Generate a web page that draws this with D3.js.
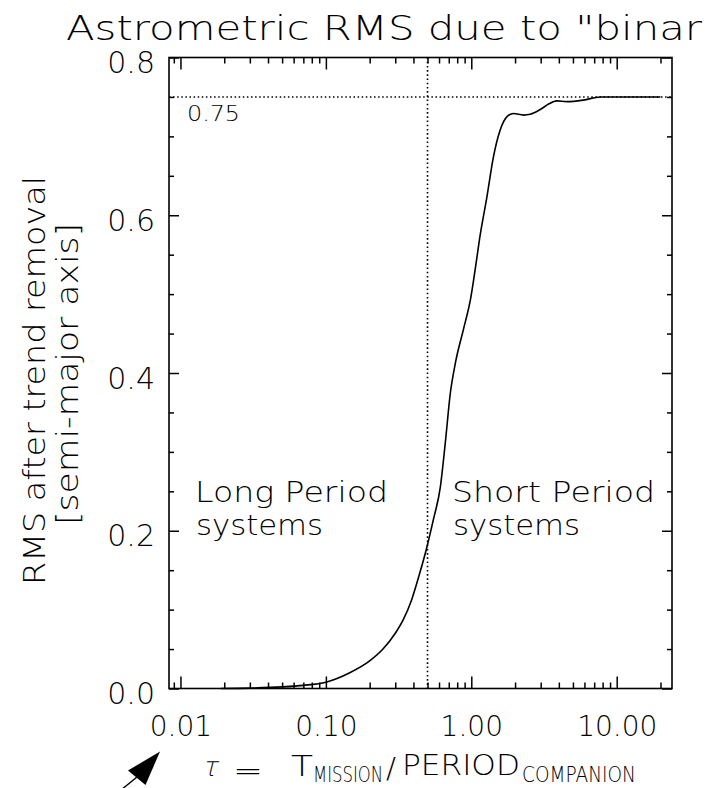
<!DOCTYPE html>
<html>
<head>
<meta charset="utf-8">
<script src="https://cdn.jsdelivr.net/npm/d3@7/dist/d3.min.js"></script>
<style>
  html, body { margin: 0; padding: 0; background: #fff; }
  svg { display: block; }
  text { font-family: "DejaVu Sans", "Liberation Sans", sans-serif; font-weight: 200; fill: #000; }
</style>
</head>
<body>
<svg id="chart" width="706" height="788"></svg>
<script>
// ---------------- data ----------------
const tau = [0.019, 0.03, 0.05, 0.07, 0.10, 0.146, 0.20, 0.247, 0.30, 0.34, 0.388, 0.44, 0.49, 0.55,
             0.612, 0.663, 0.717, 0.776, 0.885, 0.984, 1.094, 1.14, 1.28, 1.42, 1.58, 1.76, 1.95,
             2.29, 2.54, 2.98, 3.40, 3.88, 4.54, 5.9, 7.7, 20];
const rms = [0, 0.0005, 0.002, 0.004, 0.008, 0.02, 0.035, 0.05, 0.07, 0.087, 0.112, 0.145, 0.176, 0.215,
             0.255, 0.312, 0.374, 0.412, 0.456, 0.492, 0.547, 0.570, 0.623, 0.674, 0.708, 0.725, 0.729,
             0.727, 0.728, 0.734, 0.741, 0.745, 0.744, 0.746, 0.75, 0.75];
const xMajorTicks = [0.01, 0.1, 1, 10];
const xMajorLabels = ["0.01", "0.10", "1.00", "10.00"];
const yMajorTicks = [0, 0.2, 0.4, 0.6, 0.8];
const yMajorLabels = ["0.0", "0.2", "0.4", "0.6", "0.8"];
const yMinorStep = 0.05;
const xDomain = [0.00834, 24.0];
const yDomain = [0, 0.8];
const refLevel = 0.75;
const refLevelLabel = "0.75";
const refTau = 0.5;
const titleText = "Astrometric RMS due to \"binar";
const yTitle1 = "RMS after trend removal";
const yTitle2 = "[semi-major axis]";
const leftNote = ["Long Period", "systems"];
const rightNote = ["Short Period", "systems"];

// ---------------- layout ----------------
const L = 169, R = 672, T = 57.5, B = 688.5;
const svg = d3.select("#chart");
const x = d3.scaleLog().domain(xDomain).range([L, R]);
const y = d3.scaleLinear().domain(yDomain).range([B, T]);

function fit(sel, w) { return sel.attr("textLength", w).attr("lengthAdjust", "spacingAndGlyphs"); }
// text squeezed/stretched horizontally by a transform so its box matches a width
function place(px, py, str, size, w, extra) {
  const t = svg.append("text").style("font-size", size + "px").text(str);
  const n = t.node().getComputedTextLength();
  t.attr("transform", `translate(${px},${py}) ${extra || ""} scale(${w / n},1)`);
  return t;
}

// minor ticks
const xMinor = x.ticks().filter(v => !xMajorTicks.some(m => Math.abs(m - v) / m < 1e-6));
const yMinor = d3.range(yDomain[0], yDomain[1] + 1e-9, yMinorStep)
  .filter(v => !yMajorTicks.some(m => Math.abs(m - v) < 1e-6));

function tickAxis(axis, tr) {
  const g = svg.append("g").attr("transform", tr).call(axis);
  g.select(".domain").remove();
  g.selectAll("line").attr("stroke", "#000").attr("stroke-width", 1.5);
  return g;
}
// bottom
tickAxis(d3.axisBottom(x).tickValues(xMinor).tickSize(-6).tickFormat(""), `translate(0,${B})`);
const xAx = tickAxis(d3.axisBottom(x).tickValues(xMajorTicks).tickSize(-12).tickPadding(27.5)
  .tickFormat((d, i) => xMajorLabels[i]), `translate(0,${B})`);
xAx.selectAll("text").style("font-size", "28px").attr("fill", "#000");
// top
tickAxis(d3.axisTop(x).tickValues(xMinor).tickSize(-6).tickFormat(""), `translate(0,${T})`);
tickAxis(d3.axisTop(x).tickValues(xMajorTicks).tickSize(-12).tickFormat(""), `translate(0,${T})`);
// left
tickAxis(d3.axisLeft(y).tickValues(yMinor).tickSize(-5).tickFormat(""), `translate(${L},0)`);
const yAx = tickAxis(d3.axisLeft(y).tickValues(yMajorTicks).tickSize(-10).tickPadding(14)
  .tickFormat((d, i) => yMajorLabels[i]), `translate(${L},0)`);
yAx.selectAll("text").style("font-size", "30px").attr("dy", "0.5em").attr("fill", "#000");
// right
tickAxis(d3.axisRight(y).tickValues(yMinor).tickSize(-5).tickFormat(""), `translate(${R},0)`);
tickAxis(d3.axisRight(y).tickValues(yMajorTicks).tickSize(-10).tickFormat(""), `translate(${R},0)`);

// frame
svg.append("rect").attr("x", L).attr("y", T).attr("width", R - L).attr("height", B - T)
  .attr("fill", "none").attr("stroke", "#000").attr("stroke-width", 1.6);

// reference dotted lines
svg.append("line").attr("x1", L).attr("x2", R).attr("y1", y(refLevel)).attr("y2", y(refLevel))
  .attr("stroke", "#000").attr("stroke-width", 1.4).attr("stroke-dasharray", "1.5 2.6");
svg.append("line").attr("x1", x(refTau)).attr("x2", x(refTau)).attr("y1", T).attr("y2", B)
  .attr("stroke", "#000").attr("stroke-width", 1.6).attr("stroke-dasharray", "1.6 2.6");

// curve
const pts = tau.map((t, i) => [t, rms[i]]);
svg.append("path").datum(pts)
  .attr("d", d3.line().x(d => x(d[0])).y(d => y(d[1])).curve(d3.curveMonotoneX))
  .attr("fill", "none").attr("stroke", "#000").attr("stroke-width", 1.6);

// labels
fit(svg.append("text").attr("x", 187).attr("y", 121).style("font-size", "22px").text(refLevelLabel), 53);
fit(svg.append("text").attr("x", 66).attr("y", 39.5).style("font-size", "34px").text(titleText), 636);

function twoLine(xp, lines, widths) {
  const t = svg.append("text").style("font-size", "28px");
  fit(t.append("tspan").attr("x", xp).attr("y", 502).text(lines[0]), widths[0]);
  fit(t.append("tspan").attr("x", xp + 1).attr("y", 535).text(lines[1]), widths[1]);
}
twoLine(195, leftNote, [193, 127]);
twoLine(452, rightNote, [203, 127]);

fit(svg.append("text").attr("transform", "translate(45,380.5) rotate(-90)")
  .attr("text-anchor", "middle").style("font-size", "31px").text(yTitle1), 409);
fit(svg.append("text").attr("transform", "translate(78,374) rotate(-90)")
  .attr("text-anchor", "middle").style("font-size", "31px").text(yTitle2), 302);

// x axis title
place(202, 776, "τ", 27, 15, "skewX(-14)");
place(233, 780, "=", 29, 30);
place(291, 776, "T", 28, 22);
place(313, 782, "MISSION", 21, 70);
place(386, 778, "/", 29, 10);
place(402, 775, "PERIOD", 28, 118);
place(522, 782, "COMPANION", 21, 114);

// arrow marker (decoration)
svg.append("line").attr("x1", 121).attr("y1", 790).attr("x2", 137).attr("y2", 777)
  .attr("stroke", "#000").attr("stroke-width", 1.4);
svg.append("path").attr("d", "M160,751.5 L128,770.5 L145.5,785 Z").attr("fill", "#000");
</script>
</body>
</html>
